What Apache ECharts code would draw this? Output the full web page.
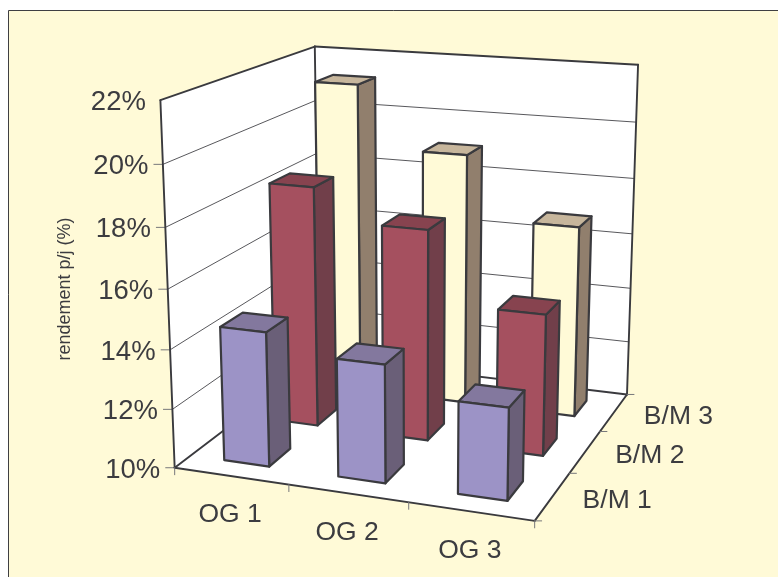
<!DOCTYPE html>
<html>
<head>
<meta charset="utf-8">
<style>html,body{margin:0;padding:0;background:#fff}#chart{width:778px;height:577px}</style>
<script src="https://cdn.jsdelivr.net/npm/echarts@6/dist/echarts.min.js"></script>
</head>
<body>
<div id="chart"></div>
<script>
// Groups along the front edge and rows going into the depth of the box
const groupNames = ['OG 1', 'OG 2', 'OG 3'];
const rowNames = ['B/M 1', 'B/M 2', 'B/M 3'];
const valueTicks = [10, 12, 14, 16, 18, 20, 22];

// Yield per group, one list per row
const rowBM1 = [14.55, 13.95, 13.05];
const rowBM2 = [18.4, 17.3, 14.85];
const rowBM3 = [21.2, 19.0, 16.8];

const axisTitle = 'rendement p/j (%)';

// Perspective camera: image positions of the box corners, as [X, Z, Y] -> [px, py]
const cameraAnchors = [
  [[0, 0, 0], [175, 469.3]],
  [[1, 0, 0], [534, 520]],
  [[1, 1, 0], [627.3, 395.3]],
  [[0, 1, 0], [319.5, 356]],
  [[0, 0, 1], [160.7, 99.3]],
  [[0, 1, 1], [314.3, 47.3]],
  [[1, 1, 1], [638.3, 64.7]]
];

function solveLinear(A, b) {
  const n = b.length;
  const M = A.map((r, i) => r.concat(b[i]));
  for (let c = 0; c < n; c++) {
    let p = c;
    for (let r = c + 1; r < n; r++) if (Math.abs(M[r][c]) > Math.abs(M[p][c])) p = r;
    [M[c], M[p]] = [M[p], M[c]];
    for (let r = 0; r < n; r++) {
      if (r === c) continue;
      const f = M[r][c] / M[c][c];
      for (let k = c; k <= n; k++) M[r][k] -= f * M[c][k];
    }
  }
  return M.map((r, i) => r[n] / r[i]);
}

function fitCamera(anchors) {
  const rows = [], rhs = [];
  anchors.forEach(([[x, z, y], [u, v]]) => {
    rows.push([x, y, z, 1, 0, 0, 0, 0, -u * x, -u * y, -u * z]); rhs.push(u);
    rows.push([0, 0, 0, 0, x, y, z, 1, -v * x, -v * y, -v * z]); rhs.push(v);
  });
  const N = Array.from({ length: 11 }, (_, i) => Array.from({ length: 11 }, (_, j) =>
    rows.reduce((s, r) => s + r[i] * r[j], 0)));
  const t = Array.from({ length: 11 }, (_, i) => rows.reduce((s, r, k) => s + r[i] * rhs[k], 0));
  return solveLinear(N, t);
}

const cam = fitCamera(cameraAnchors);
function project(x, z, y) {
  const w = cam[8] * x + cam[9] * y + cam[10] * z + 1;
  return [
    (cam[0] * x + cam[1] * y + cam[2] * z + cam[3]) / w,
    (cam[4] * x + cam[5] * y + cam[6] * z + cam[7]) / w
  ];
}

const INK = '#3a3a3e';
const TICK = '#77777a';
const TEXT = '#3c3c40';
const BAR_WIDTH = 0.4;
const BAR_DEPTH = 0.42;

const rowStyles = [
  { front: '#9c93c6', side: '#6a5f78', top: '#83789e' },
  { front: '#a5505f', side: '#713f4a', top: '#87434f' },
  { front: '#fffad7', side: '#917f6d', top: '#c7b69c' }
];

function poly(points, fill, stroke, lineWidth) {
  return {
    type: 'polygon',
    shape: { points },
    style: { fill, stroke, lineWidth, lineJoin: 'round' }
  };
}
function seg(a, b, stroke, lineWidth) {
  return {
    type: 'line',
    shape: { x1: a[0], y1: a[1], x2: b[0], y2: b[1] },
    style: { stroke, lineWidth, lineCap: 'round' }
  };
}
function label(text, x, y, align, size, rotation) {
  return {
    type: 'text',
    x, y, rotation: rotation || 0,
    style: {
      text, fill: TEXT, align, verticalAlign: 'middle',
      font: size + 'px "Liberation Sans", Arial, sans-serif'
    }
  };
}

// Vertical position of a value as a 0..1 share of the value axis
function heightShare(api, params, value) {
  const cs = params.coordSys;
  return 1 - (api.coord([0, value])[1] - cs.y) / cs.height;
}

function renderBox(params, api) {
  const children = [];
  const c = (x, z, y) => project(x, z, y);
  // Floor and the two walls
  children.push(poly([c(0, 0, 0), c(1, 0, 0), c(1, 1, 0), c(0, 1, 0)], '#ffffff', 'none', 0));
  children.push(poly([c(0, 0, 0), c(0, 1, 0), c(0, 1, 1), c(0, 0, 1)], '#ffffff', 'none', 0));
  children.push(poly([c(0, 1, 0), c(1, 1, 0), c(1, 1, 1), c(0, 1, 1)], '#ffffff', 'none', 0));

  valueTicks.forEach(v => {
    const h = heightShare(api, params, v);
    if (v !== valueTicks[0] && v !== valueTicks[valueTicks.length - 1]) {
      children.push(seg(c(0, 0, h), c(0, 1, h), '#58585c', 1));
      children.push(seg(c(0, 1, h), c(1, 1, h), '#58585c', 1));
    }
    const p = c(0, 0, h);
    if (v !== valueTicks[valueTicks.length - 1]) {
      children.push(seg([p[0] - 9, p[1]], p, TICK, 1));
    }
    children.push(label(v + '%', p[0] - 14.5, p[1] + 2.5, 'right', 27.5));
  });

  // Box outline
  [[[0, 0, 0], [1, 0, 0]], [[1, 0, 0], [1, 1, 0]], [[1, 1, 0], [0, 1, 0]], [[0, 1, 0], [0, 0, 0]],
   [[0, 0, 0], [0, 0, 1]], [[0, 0, 1], [0, 1, 1]], [[0, 1, 1], [1, 1, 1]],
   [[1, 1, 1], [1, 1, 0]], [[0, 1, 0], [0, 1, 1]]].forEach(([a, b]) => {
    children.push(seg(c(a[0], a[1], a[2]), c(b[0], b[1], b[2]), INK, 1.9));
  });

  // Tick marks and labels of the two floor axes
  for (let i = 0; i <= groupNames.length; i++) {
    const p = c(i / groupNames.length, 0, 0);
    children.push(seg(p, [p[0], p[1] + 7], TICK, 1));
  }
  for (let j = 0; j <= rowNames.length; j++) {
    const p = c(1, j / rowNames.length, 0);
    children.push(seg(p, [p[0] + 7, p[1]], TICK, 1));
  }
  groupNames.forEach((name, i) => {
    const p = c((i + 0.5) / groupNames.length, 0, 0);
    children.push(label(name, p[0] - 1, p[1] + 39, 'center', 26.5));
  });
  rowNames.forEach((name, j) => {
    const p = c(1, (j + 0.5) / rowNames.length, 0);
    children.push(label(name, p[0] + 30, p[1] + 4, 'left', 26.5));
  });
  children.push(label(axisTitle, 65, 289, 'center', 18, Math.PI / 2));
  return { type: 'group', children };
}

function renderBar(params, api) {
  const cs = params.coordSys;
  const row = api.value(2);
  const centre = api.coord([api.value(0), api.value(1)]);
  const slot = api.size([1, 0])[0] / cs.width;
  const cx = (centre[0] - cs.x) / cs.width;
  const top = 1 - (centre[1] - cs.y) / cs.height;
  const hw = slot * BAR_WIDTH / 2;
  const slotZ = 1 / rowNames.length;
  const cz = (row + 0.5) * slotZ;
  const hd = slotZ * BAR_DEPTH / 2;
  const x0 = cx - hw, x1 = cx + hw, z0 = cz - hd, z1 = cz + hd;
  const st = rowStyles[row];
  const p = project;
  return {
    type: 'group',
    children: [
      poly([p(x1, z0, 0), p(x1, z1, 0), p(x1, z1, top), p(x1, z0, top)], st.side, INK, 2.2),
      poly([p(x0, z0, top), p(x1, z0, top), p(x1, z1, top), p(x0, z1, top)], st.top, INK, 2.2),
      poly([p(x0, z0, 0), p(x1, z0, 0), p(x1, z0, top), p(x0, z0, top)], st.front, INK, 2.2)
    ]
  };
}

const rows = [rowBM1, rowBM2, rowBM3];
const barSeries = rows.map((vals, row) => ({
  name: rowNames[row],
  type: 'custom',
  coordinateSystem: 'cartesian2d',
  renderItem: renderBar,
  animation: false,
  silent: true,
  encode: { x: 0, y: 1 },
  data: vals.map((v, i) => [i, v, row])
})).reverse(); // far row first so nearer bars paint over it

const chart = echarts.init(document.getElementById('chart'), null, { renderer: 'canvas' });
chart.setOption({
  backgroundColor: '#ffffff',
  animation: false,
  graphic: [{
    type: 'rect',
    shape: { x: 8.5, y: 10.5, width: 790, height: 590 },
    style: { fill: '#fffad7', stroke: '#3f3f42', lineWidth: 1 },
    silent: true
  }],
  grid: { left: 175, right: 140, top: 47, bottom: 57 },
  xAxis: { type: 'category', data: groupNames, show: false },
  yAxis: { type: 'value', min: 10, max: 22, interval: 2, show: false },
  series: [{
    name: 'box',
    type: 'custom',
    coordinateSystem: 'cartesian2d',
    renderItem: renderBox,
    animation: false,
    silent: true,
    data: [[0, 10]]
  }].concat(barSeries)
});
</script>
</body>
</html>
